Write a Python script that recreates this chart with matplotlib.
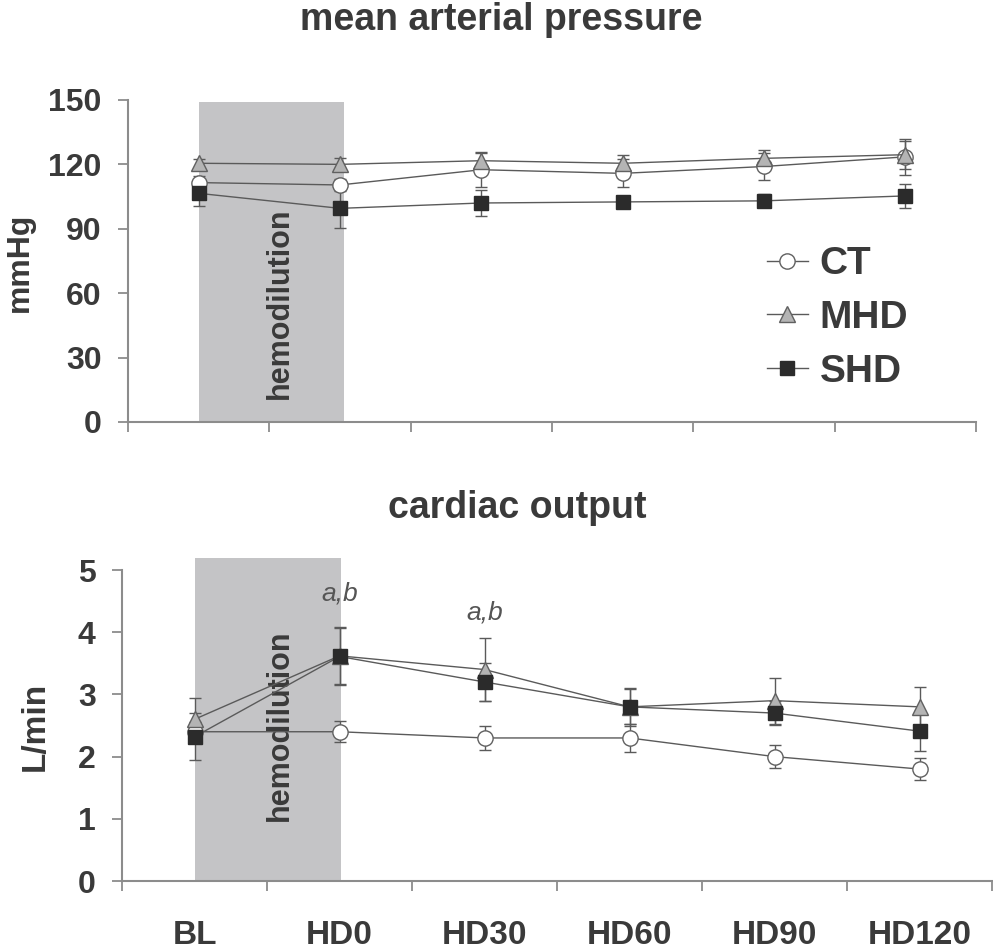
import numpy as np
import matplotlib
matplotlib.use('Agg')
import matplotlib.pyplot as plt

plt.rcParams['font.family'] = ['Liberation Sans', 'DejaVu Sans']

# data
categories = ['BL', 'HD0', 'HD30', 'HD60', 'HD90', 'HD120']
groups = ['CT', 'MHD', 'SHD']

map_ct = [111.5, 110.4, 117.5, 115.8, 119.0, 123.5]
map_mhd = [120.5, 120.0, 121.7, 120.5, 122.8, 124.5]
map_shd = [106.5, 99.5, 102.0, 102.5, 103.0, 105.3]
map_ct_err = [3, 3, 8, 6.5, 6.5, 8.5]
map_mhd_err = [2, 3, 4, 4, 4, 6.5]
map_shd_err = [6, 9, 6, 2, 3, 5.5]

co_ct = [2.4, 2.4, 2.3, 2.3, 2.0, 1.8]
co_mhd = [2.6, 3.62, 3.4, 2.8, 2.9, 2.8]
co_shd = [2.32, 3.61, 3.2, 2.8, 2.7, 2.41]
co_ct_err = [0.15, 0.17, 0.19, 0.22, 0.19, 0.18]
co_mhd_err = [0.34, 0.46, 0.5, 0.3, 0.37, 0.32]
co_shd_err = [0.38, 0.46, 0.3, 0.28, 0.19, 0.32]

sig_labels = ['a,b', 'a,b']
sig_pos = [(1, 4.63), (2, 4.31)]

txt = '#3a3a3a'
axc = '#8c8c8c'
linec = '#5a5a5a'
shade = '#c4c4c6'

styles = {
    'CT': dict(marker='o', mfc='white', mec='#606060', ms=11),
    'MHD': dict(marker='^', mfc='#b4b4b4', mec='#606060', ms=12),
    'SHD': dict(marker='s', mfc='#2b2b2b', mec='#2b2b2b', ms=10.5),
}

fig = plt.figure(figsize=(9.93, 9.51), dpi=100)
ax1 = fig.add_axes([0.1289, 0.5563, 0.854, 0.3386])
ax2 = fig.add_axes([0.1229, 0.0736, 0.8761, 0.3270])

x = np.arange(len(categories))


def style_axis(ax, yticks, ylim, labels):
    ax.set_xlim(-0.5, len(categories) - 0.5)
    ax.set_ylim(*ylim)
    for s in ['top', 'right']:
        ax.spines[s].set_visible(False)
    for s in ['left', 'bottom']:
        ax.spines[s].set_color(axc)
        ax.spines[s].set_linewidth(1.5)
    ax.set_yticks(yticks)
    ax.set_yticklabels([str(v) for v in yticks], fontsize=23, fontweight='bold', color=txt)
    ax.set_xticks(np.arange(-0.5, len(categories), 1.0))
    ax.set_xticklabels([])
    ax.set_xticks(x, minor=True)
    ax.tick_params(axis='both', which='major', direction='out', length=7, width=1.3, color=axc)
    ax.tick_params(axis='y', pad=12)
    ax.tick_params(axis='x', which='minor', length=0, pad=28)
    if labels:
        ax.set_xticklabels(categories, minor=True, fontsize=24, fontweight='bold', color=txt)


def draw_series(ax, values, errs):
    handles = []
    for g, v, e in zip(groups, values, errs):
        h = ax.errorbar(x, v, yerr=e, color=linec, lw=1, elinewidth=1, capsize=4,
                        capthick=1, ecolor=linec, mew=1, zorder=3, label=g, **styles[g])
        handles.append(h.lines[0])
    return handles


# top panel
style_axis(ax1, [0, 30, 60, 90, 120, 150], (0, 150), False)
ax1.fill_between([0, 1.03], 0, 149, color=shade, lw=0, zorder=1)
ax1.text(0.576, 55.4, 'hemodilution', rotation=90, ha='center', va='center',
         fontsize=22, fontweight='bold', color=txt, zorder=2)
hs = draw_series(ax1, [map_ct, map_mhd, map_shd], [map_ct_err, map_mhd_err, map_shd_err])
fig.legend(hs, groups, loc='center left', bbox_to_anchor=(0.7724, 0.6655), frameon=False,
           prop=dict(size=28, weight='bold'), labelcolor=txt, handlelength=1.05,
           handletextpad=0.3, labelspacing=0.46, borderpad=0, borderaxespad=0)

# bottom panel
style_axis(ax2, [0, 1, 2, 3, 4, 5], (0, 5), True)
ax2.fill_between([0, 1.01], 0, 5.19, color=shade, lw=0, zorder=1, clip_on=False)
ax2.text(0.59, 2.51, 'hemodilution', rotation=90, ha='center', va='center',
         fontsize=22, fontweight='bold', color=txt, zorder=2)
draw_series(ax2, [co_ct, co_mhd, co_shd], [co_ct_err, co_mhd_err, co_shd_err])
for lab, (px, py) in zip(sig_labels, sig_pos):
    ax2.text(px, py, lab, ha='center', va='center', fontsize=19, style='italic', color='#555555')

fig.text(0.5045, 0.968, 'mean arterial pressure', ha='center', va='baseline',
         fontsize=27, fontweight='bold', color=txt)
fig.text(0.5206, 0.4553, 'cardiac output', ha='center', va='baseline',
         fontsize=27, fontweight='bold', color=txt)
fig.text(20 / 993, 1 - 262 / 951, 'mmHg', rotation=90, ha='center', va='center',
         fontsize=23, fontweight='bold', color=txt)
fig.text(35 / 993, 1 - 726 / 951, 'L/min', rotation=90, ha='center', va='center',
         fontsize=24, fontweight='bold', color=txt)

fig.savefig('out.png', dpi=100)
